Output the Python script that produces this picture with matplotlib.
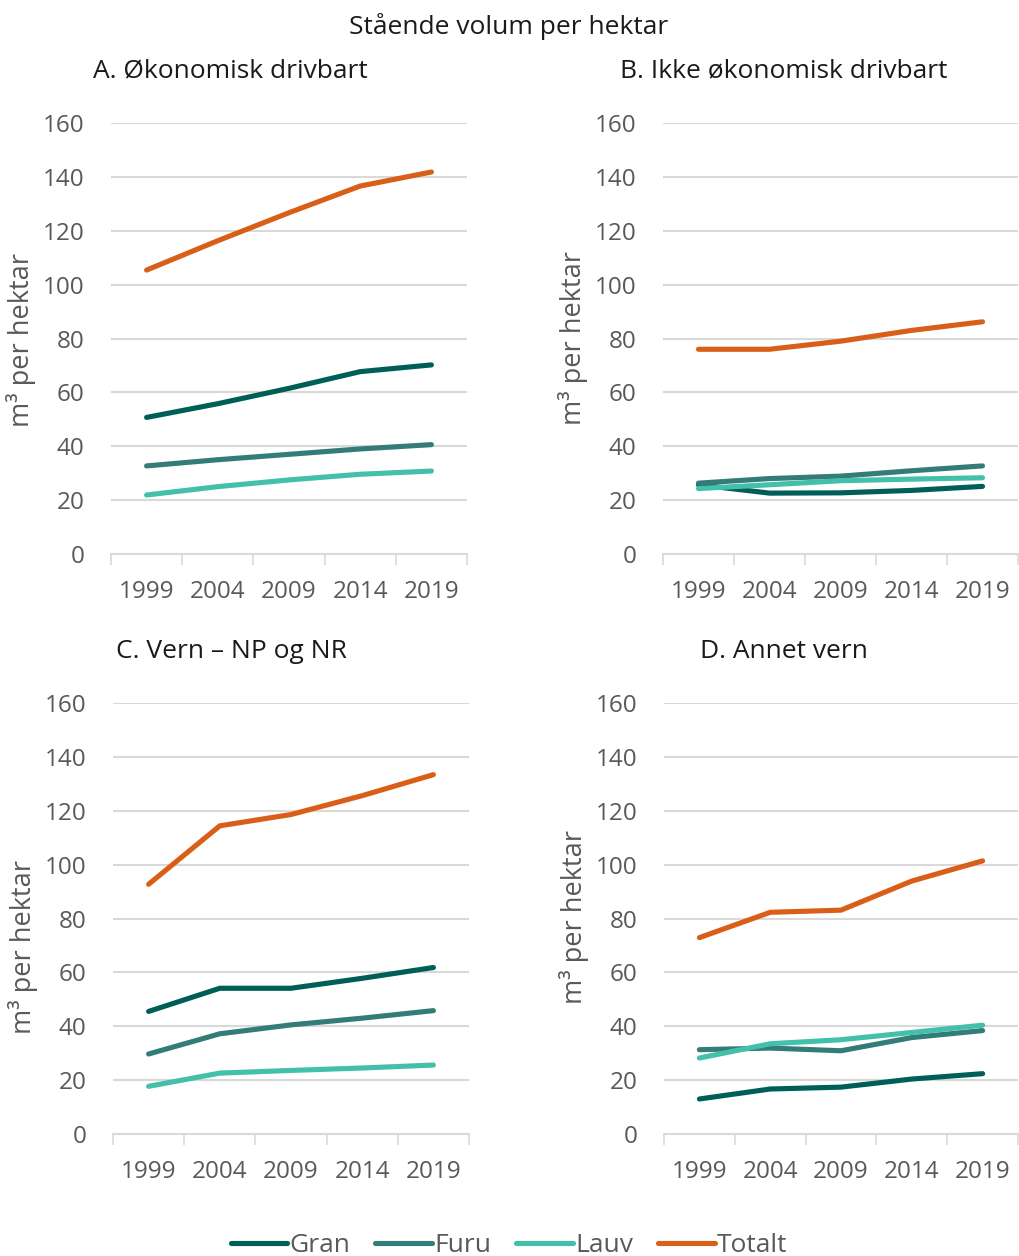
import matplotlib
matplotlib.use("Agg")
import matplotlib.pyplot as plt
from matplotlib.lines import Line2D

plt.rcParams['font.family'] = ['Open Sans', 'DejaVu Sans']

# Data
years = ['1999', '2004', '2009', '2014', '2019']
series = ['Gran', 'Furu', 'Lauv', 'Totalt']
colors = ['#005E58', '#347C77', '#43C0A9', '#D95F19']

a_gran = [50.7, 55.8, 61.5, 67.7, 70.2]
a_furu = [32.7, 35.0, 37.0, 39.0, 40.6]
a_lauv = [21.9, 25.0, 27.5, 29.6, 30.8]
a_tot = [105.4, 116.3, 126.7, 136.6, 141.8]

b_gran = [25.7, 22.6, 22.7, 23.6, 25.1]
b_furu = [26.3, 28.0, 28.9, 30.9, 32.7]
b_lauv = [24.3, 25.7, 27.2, 27.8, 28.3]
b_tot = [76.0, 76.0, 79.0, 83.0, 86.2]

c_gran = [45.5, 54.1, 54.1, 57.8, 61.8]
c_furu = [29.7, 37.2, 40.5, 43.0, 45.8]
c_lauv = [17.7, 22.6, 23.6, 24.5, 25.6]
c_tot = [92.7, 114.4, 118.6, 125.6, 133.4]

d_gran = [13.0, 16.7, 17.4, 20.4, 22.4]
d_furu = [31.3, 31.9, 30.9, 35.8, 38.4]
d_lauv = [28.2, 33.5, 35.0, 37.7, 40.4]
d_tot = [72.9, 82.3, 83.1, 93.9, 101.4]

panels = [
    ('A. Økonomisk drivbart', [a_gran, a_furu, a_lauv, a_tot]),
    ('B. Ikke økonomisk drivbart', [b_gran, b_furu, b_lauv, b_tot]),
    ('C. Vern – NP og NR', [c_gran, c_furu, c_lauv, c_tot]),
    ('D. Annet vern', [d_gran, d_furu, d_lauv, d_tot]),
]

W, H = 1019, 1256
gray = '#595959'
fig = plt.figure(figsize=(W / 100, H / 100), dpi=100)

# axes boxes in pixels: left, top, right, bottom
boxes = [(111, 123, 467, 554), (663, 123, 1018, 554),
         (113, 703, 469, 1134), (664, 703, 1018, 1134)]
title_pos = [(93, 71), (620, 71), (116, 651), (700, 651)]
ylab_pos = [(21, 340), (573, 338), (23, 947), (574, 917)]

for (title, vals), box, tp, yp in zip(panels, boxes, title_pos, ylab_pos):
    l, t, r, b = box
    ax = fig.add_axes([l / W, 1 - b / H, (r - l) / W, (b - t) / H])
    x = range(len(years))
    for v, c in zip(vals, colors):
        ax.plot(x, v, color=c, lw=3.7, solid_capstyle='round', solid_joinstyle='round')
    ax.set_xlim(-0.5, len(years) - 0.5)
    ax.set_ylim(0, 160)
    ax.set_yticks(range(0, 161, 20))
    ax.set_xticks(list(x))
    ax.set_xticklabels(years)
    ax.set_xticks([i - 0.5 for i in range(len(years) + 1)], minor=True)
    ax.tick_params(axis='x', which='major', length=0, pad=19, labelsize=17.5, labelcolor=gray)
    ax.tick_params(axis='x', which='minor', length=8, width=1.2, color='#D9D9D9')
    ax.tick_params(axis='y', length=0, pad=19, labelsize=17.5, labelcolor=gray)
    ax.grid(axis='y', color='#D9D9D9', lw=1.5)
    ax.set_axisbelow(True)
    for s in ['top', 'right', 'left']:
        ax.spines[s].set_visible(False)
    ax.spines['bottom'].set_color('#D9D9D9')
    ax.spines['bottom'].set_linewidth(1.5)
    fig.text(tp[0] / W, 1 - tp[1] / H, title, ha='left', va='center', fontsize=19, color='#1a1a1a')
    fig.text(yp[0] / W, 1 - yp[1] / H, 'm³ per hektar', ha='center', va='center',
             rotation=90, fontsize=19.5, color=gray)

fig.text(509 / W, 1 - 26 / H, 'Stående volum per hektar', ha='center', va='center',
         fontsize=19, color='#1a1a1a')

handles = [Line2D([], [], color=c, lw=3.7, solid_capstyle='round') for c in colors]
fig.legend(handles, series, loc='center', bbox_to_anchor=(509 / W, 1 - 1246 / H), ncol=4,
           frameon=False, fontsize=19, labelcolor=gray, handlelength=2.15,
           handletextpad=0.08, columnspacing=0.95, borderpad=0)

fig.savefig('out.png', dpi=100)
